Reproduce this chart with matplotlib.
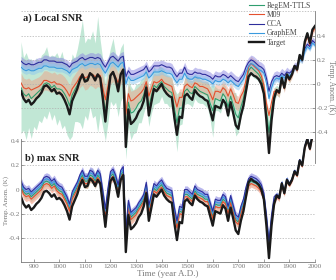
import numpy as np
import matplotlib.pyplot as plt

plt.rcParams['font.family'] = ['Liberation Serif', 'DejaVu Serif']

# decadal values, 850-2000 A.D.
years = list(range(850, 2001, 10))

target = [
    -0.06, -0.12, -0.15, -0.13, -0.17, -0.15, -0.12, -0.10, -0.07, -0.02,
    -0.01, -0.03, -0.06, -0.04, -0.08, -0.07, -0.09, -0.13, -0.18, -0.25,
    -0.14, -0.09, -0.04, 0.03, 0.08, 0.02, 0.03, 0.09, 0.07, 0.03,
    0.08, 0.05, -0.12, -0.31, -0.10, 0.07, 0.10, 0.04, -0.06, 0.08,
    0.12, -0.52, -0.21, -0.33, -0.31, -0.28, -0.23, -0.20, -0.14, -0.03,
    -0.26, -0.15, -0.04, -0.06, -0.03, 0.00, -0.05, -0.08, -0.10, -0.11,
    -0.28, -0.42, -0.27, -0.28, -0.10, -0.08, -0.11, -0.13, -0.05, -0.08,
    -0.10, -0.11, -0.13, -0.14, -0.22, -0.30, -0.18, -0.19, -0.20, -0.13,
    -0.16, -0.26, -0.15, -0.24, -0.34, -0.37, -0.26, -0.18, -0.06, 0.06,
    0.09, 0.07, 0.06, 0.04, 0.00, -0.08, -0.30, -0.57, -0.30, -0.12,
    -0.05, -0.07, 0.05, -0.03, 0.08, 0.04, 0.08, 0.15, 0.12, 0.24,
    0.20, 0.35, 0.42, 0.34, 0.45, 0.48]

# ---- panel a) local SNR ----
regem_a = [
    -0.03, -0.08, -0.10, -0.08, -0.12, -0.10, -0.08, -0.06, -0.04, 0.00,
    0.01, 0.00, -0.03, -0.01, -0.04, -0.04, -0.05, -0.08, -0.12, -0.18,
    -0.09, -0.05, -0.01, 0.04, 0.08, 0.04, 0.04, 0.09, 0.08, 0.04,
    0.08, 0.06, -0.08, -0.23, -0.06, 0.08, 0.10, 0.05, -0.03, 0.08,
    0.12, -0.40, -0.15, -0.24, -0.23, -0.20, -0.16, -0.14, -0.09, 0.00,
    -0.19, -0.10, -0.01, -0.03, 0.00, 0.02, -0.02, -0.04, -0.06, -0.07,
    -0.20, -0.32, -0.20, -0.20, -0.06, -0.04, -0.07, -0.08, -0.02, -0.04,
    -0.06, -0.07, -0.08, -0.09, -0.16, -0.22, -0.12, -0.13, -0.14, -0.08,
    -0.11, -0.19, -0.10, -0.17, -0.25, -0.28, -0.19, -0.12, 0.00, 0.11,
    0.14, 0.12, 0.10, 0.08, 0.04, -0.04, -0.22, -0.40, -0.22, -0.09,
    -0.05, -0.07, 0.05, -0.03, 0.08, 0.04, 0.08, 0.15, 0.12, 0.24,
    0.20, 0.35, 0.42, 0.34, 0.45, 0.48]
regem_a_err = [
    0.38, 0.30, 0.36, 0.28, 0.33, 0.25, 0.30, 0.24, 0.28, 0.26,
    0.30, 0.22, 0.27, 0.24, 0.30, 0.25, 0.32, 0.26, 0.30, 0.28,
    0.34, 0.26, 0.30, 0.36, 0.45, 0.30, 0.34, 0.28, 0.36, 0.30,
    0.48, 0.30, 0.28, 0.24, 0.26, 0.22, 0.28, 0.20, 0.24, 0.22,
    0.22, 0.22, 0.20, 0.22, 0.18, 0.20, 0.16, 0.18, 0.15, 0.17,
    0.16, 0.14, 0.16, 0.13, 0.15, 0.12, 0.14, 0.12, 0.13, 0.12,
    0.16, 0.24, 0.14, 0.13, 0.11, 0.12, 0.10, 0.11, 0.10, 0.11,
    0.10, 0.09, 0.10, 0.11, 0.14, 0.22, 0.10, 0.09, 0.10, 0.09,
    0.09, 0.10, 0.09, 0.10, 0.18, 0.12, 0.09, 0.08, 0.07, 0.07,
    0.06, 0.07, 0.06, 0.06, 0.06, 0.06, 0.07, 0.09, 0.07, 0.06,
    0.04, 0.04, 0.03, 0.03, 0.03, 0.03, 0.02, 0.02, 0.02, 0.02,
    0.02, 0.02, 0.02, 0.02, 0.02, 0.02]

m09_a = [
    0.01, -0.03, -0.04, -0.03, -0.05, -0.04, -0.03, -0.02, 0.00, 0.03,
    0.03, 0.02, 0.01, 0.02, 0.00, 0.00, -0.01, -0.03, -0.06, -0.10,
    -0.04, -0.01, 0.02, 0.06, 0.08, 0.05, 0.06, 0.09, 0.08, 0.06,
    0.08, 0.07, -0.03, -0.13, -0.02, 0.08, 0.10, 0.06, 0.01, 0.08,
    0.11, -0.25, -0.08, -0.14, -0.13, -0.11, -0.09, -0.07, -0.04, 0.02,
    -0.10, -0.04, 0.02, 0.01, 0.02, 0.04, 0.01, 0.00, -0.01, -0.02,
    -0.11, -0.19, -0.11, -0.11, -0.02, 0.00, -0.02, -0.03, 0.01, 0.00,
    -0.02, -0.02, -0.03, -0.04, -0.08, -0.13, -0.06, -0.06, -0.07, -0.03,
    -0.05, -0.10, -0.04, -0.09, -0.15, -0.16, -0.10, -0.06, 0.03, 0.14,
    0.17, 0.15, 0.13, 0.11, 0.07, -0.01, -0.16, -0.26, -0.15, -0.06,
    -0.06, -0.08, 0.04, -0.04, 0.07, 0.03, 0.07, 0.14, 0.11, 0.23,
    0.19, 0.33, 0.40, 0.32, 0.43, 0.46]

cca_a = [
    0.19, 0.17, 0.16, 0.17, 0.16, 0.16, 0.17, 0.18, 0.18, 0.20,
    0.20, 0.19, 0.19, 0.19, 0.18, 0.18, 0.18, 0.17, 0.16, 0.14,
    0.17, 0.18, 0.19, 0.21, 0.22, 0.20, 0.21, 0.22, 0.22, 0.21,
    0.22, 0.21, 0.17, 0.14, 0.18, 0.22, 0.23, 0.21, 0.19, 0.22,
    0.23, 0.06, 0.11, 0.08, 0.08, 0.09, 0.10, 0.11, 0.12, 0.15,
    0.10, 0.12, 0.15, 0.15, 0.15, 0.16, 0.15, 0.14, 0.14, 0.13,
    0.09, 0.06, 0.09, 0.09, 0.14, 0.09, 0.08, 0.08, 0.10, 0.09,
    0.09, 0.08, 0.08, 0.07, 0.06, 0.04, 0.07, 0.06, 0.06, 0.08,
    0.07, 0.05, 0.07, 0.05, 0.03, 0.02, 0.05, 0.08, 0.14, 0.18,
    0.20, 0.19, 0.17, 0.15, 0.14, 0.12, 0.05, -0.06, 0.02, 0.06,
    0.07, 0.06, 0.09, 0.07, 0.10, 0.09, 0.11, 0.15, 0.15, 0.22,
    0.21, 0.29, 0.33, 0.31, 0.36, 0.34]

graphem_a = [
    0.14, 0.12, 0.11, 0.12, 0.11, 0.11, 0.12, 0.13, 0.13, 0.15,
    0.15, 0.14, 0.14, 0.14, 0.13, 0.13, 0.13, 0.12, 0.11, 0.09,
    0.12, 0.13, 0.14, 0.16, 0.17, 0.15, 0.16, 0.17, 0.17, 0.16,
    0.17, 0.16, 0.12, 0.09, 0.13, 0.17, 0.18, 0.16, 0.14, 0.17,
    0.18, 0.00, 0.06, 0.03, 0.03, 0.04, 0.05, 0.06, 0.07, 0.10,
    0.05, 0.07, 0.10, 0.10, 0.10, 0.11, 0.10, 0.09, 0.09, 0.08,
    0.04, 0.01, 0.04, 0.04, 0.09, 0.05, 0.04, 0.04, 0.06, 0.05,
    0.05, 0.04, 0.04, 0.03, 0.02, 0.00, 0.03, 0.02, 0.02, 0.04,
    0.03, 0.01, 0.03, 0.01, -0.01, -0.02, 0.01, 0.04, 0.10, 0.15,
    0.17, 0.16, 0.14, 0.12, 0.11, 0.09, 0.01, -0.12, -0.03, 0.03,
    0.05, 0.04, 0.07, 0.05, 0.08, 0.07, 0.09, 0.13, 0.13, 0.20,
    0.19, 0.27, 0.31, 0.29, 0.34, 0.32]

# ---- panel b) max SNR ----
regem_b = [
    0.03, -0.02, -0.04, -0.03, -0.06, -0.04, -0.02, 0.00, 0.02, 0.06,
    0.07, 0.06, 0.03, 0.05, 0.01, -0.01, -0.02, -0.06, -0.10, -0.16,
    -0.06, -0.02, 0.02, 0.08, 0.12, 0.07, 0.07, 0.12, 0.11, 0.07,
    0.12, 0.09, -0.05, -0.20, -0.03, 0.11, 0.13, 0.08, 0.00, 0.12,
    0.15, -0.39, -0.13, -0.23, -0.21, -0.19, -0.15, -0.12, -0.08, 0.02,
    -0.17, -0.08, 0.01, -0.01, 0.02, 0.04, 0.00, -0.03, -0.04, -0.05,
    -0.19, -0.30, -0.18, -0.19, -0.04, -0.04, -0.06, -0.08, -0.01, -0.04,
    -0.05, -0.06, -0.08, -0.08, -0.15, -0.22, -0.12, -0.13, -0.13, -0.08,
    -0.10, -0.18, -0.09, -0.17, -0.25, -0.27, -0.18, -0.12, -0.02, 0.05,
    0.07, 0.06, 0.05, 0.03, 0.00, -0.07, -0.25, -0.47, -0.25, -0.10,
    -0.05, -0.07, 0.05, -0.03, 0.08, 0.04, 0.08, 0.15, 0.12, 0.24,
    0.20, 0.35, 0.42, 0.34, 0.45, 0.48]

m09_b = [
    0.01, -0.04, -0.06, -0.05, -0.08, -0.06, -0.04, -0.02, 0.00, 0.04,
    0.05, 0.04, 0.01, 0.03, -0.01, -0.03, -0.04, -0.08, -0.12, -0.18,
    -0.08, -0.04, 0.00, 0.06, 0.10, 0.05, 0.05, 0.10, 0.09, 0.05,
    0.10, 0.07, -0.07, -0.22, -0.05, 0.09, 0.11, 0.06, -0.02, 0.10,
    0.13, -0.41, -0.15, -0.25, -0.23, -0.21, -0.17, -0.14, -0.10, 0.00,
    -0.19, -0.10, -0.01, -0.03, 0.00, 0.02, -0.02, -0.05, -0.06, -0.07,
    -0.21, -0.32, -0.20, -0.21, -0.06, -0.06, -0.08, -0.10, -0.03, -0.06,
    -0.07, -0.08, -0.10, -0.10, -0.17, -0.24, -0.14, -0.15, -0.15, -0.10,
    -0.12, -0.20, -0.11, -0.19, -0.27, -0.29, -0.20, -0.14, -0.04, 0.03,
    0.05, 0.04, 0.03, 0.01, -0.02, -0.09, -0.27, -0.49, -0.27, -0.12,
    -0.06, -0.08, 0.04, -0.04, 0.07, 0.03, 0.07, 0.14, 0.11, 0.23,
    0.19, 0.34, 0.41, 0.33, 0.44, 0.47]

cca_b = [
    0.07, 0.02, 0.00, 0.01, -0.02, 0.00, 0.02, 0.04, 0.06, 0.10,
    0.11, 0.10, 0.07, 0.09, 0.05, 0.03, 0.02, -0.02, -0.06, -0.12,
    -0.02, 0.02, 0.06, 0.12, 0.16, 0.11, 0.11, 0.16, 0.15, 0.11,
    0.16, 0.13, -0.01, -0.16, 0.01, 0.15, 0.17, 0.12, 0.04, 0.16,
    0.19, -0.35, -0.09, -0.19, -0.17, -0.15, -0.11, -0.08, -0.04, 0.06,
    -0.13, -0.04, 0.05, 0.03, 0.06, 0.08, 0.04, 0.01, 0.00, -0.01,
    -0.15, -0.26, -0.14, -0.15, 0.00, 0.00, -0.02, -0.04, 0.03, 0.00,
    -0.01, -0.02, -0.04, -0.04, -0.11, -0.18, -0.08, -0.09, -0.09, -0.04,
    -0.06, -0.14, -0.05, -0.13, -0.21, -0.23, -0.14, -0.08, 0.02, 0.09,
    0.11, 0.10, 0.09, 0.07, 0.04, -0.03, -0.21, -0.43, -0.21, -0.06,
    -0.04, -0.06, 0.06, -0.02, 0.09, 0.05, 0.09, 0.16, 0.13, 0.25,
    0.21, 0.36, 0.43, 0.35, 0.46, 0.49]

graphem_b = [
    0.05, 0.00, -0.02, -0.01, -0.04, -0.02, 0.00, 0.02, 0.04, 0.08,
    0.09, 0.08, 0.05, 0.07, 0.03, 0.01, 0.00, -0.04, -0.08, -0.14,
    -0.04, 0.00, 0.04, 0.10, 0.14, 0.09, 0.09, 0.14, 0.13, 0.09,
    0.14, 0.11, -0.03, -0.18, -0.01, 0.13, 0.15, 0.10, 0.02, 0.14,
    0.17, -0.37, -0.11, -0.21, -0.19, -0.17, -0.13, -0.10, -0.06, 0.04,
    -0.15, -0.06, 0.03, 0.01, 0.04, 0.06, 0.02, -0.01, -0.02, -0.03,
    -0.17, -0.28, -0.16, -0.17, -0.02, -0.02, -0.04, -0.06, 0.01, -0.02,
    -0.03, -0.04, -0.06, -0.06, -0.13, -0.20, -0.10, -0.11, -0.11, -0.06,
    -0.08, -0.16, -0.07, -0.15, -0.23, -0.25, -0.16, -0.10, 0.00, 0.07,
    0.09, 0.08, 0.07, 0.05, 0.02, -0.05, -0.23, -0.45, -0.23, -0.08,
    -0.04, -0.06, 0.06, -0.02, 0.09, 0.05, 0.09, 0.16, 0.13, 0.25,
    0.21, 0.36, 0.43, 0.35, 0.46, 0.49]

# band half-widths by century (800s ... 2000)
m09_a_err = [0.08, 0.08, 0.09, 0.10, 0.08, 0.07, 0.07, 0.06, 0.06, 0.06, 0.03, 0.02, 0.02]
cca_a_err = [0.04, 0.04, 0.04, 0.04, 0.04, 0.04, 0.04, 0.04, 0.04, 0.04, 0.04, 0.03, 0.03]
graphem_a_err = [0.03, 0.03, 0.03, 0.03, 0.03, 0.03, 0.03, 0.03, 0.03, 0.03, 0.03, 0.02, 0.02]
regem_b_err = [0.04, 0.04, 0.04, 0.06, 0.04, 0.03, 0.03, 0.03, 0.03, 0.03, 0.02, 0.01, 0.01]
m09_b_err = [0.04, 0.04, 0.04, 0.04, 0.04, 0.03, 0.03, 0.03, 0.03, 0.03, 0.02, 0.01, 0.01]
cca_b_err = [0.03, 0.03, 0.03, 0.03, 0.03, 0.03, 0.03, 0.03, 0.03, 0.03, 0.02, 0.01, 0.01]
graphem_b_err = [0.03, 0.03, 0.03, 0.03, 0.03, 0.03, 0.03, 0.03, 0.03, 0.03, 0.02, 0.01, 0.01]

labels = ['RegEM-TTLS', 'M09', 'CCA', 'GraphEM', 'Target']
line_colors = ['#2f9e6e', '#e4502e', '#2e2e9c', '#3a9ade']
band_colors = ['#8fd4b4', '#f09a80', '#8a86e0', '#8cc8f0']

x = np.array(years)
century = (x - 800) // 100
grid_gray = '#b0b0b0'
text_gray = '#7a7a7a'


def per_century(err):
    return np.array(err)[century]


def style_axis(ax, side):
    for s in ax.spines.values():
        s.set_visible(False)
    ax.set_facecolor('none')
    ax.set_xlim(850, 2000)
    ax.set_yticks([-0.4, -0.2, 0, 0.2, 0.4])
    ax.set_yticklabels(['-0.4', '-0.2', '0', '0.2', '0.4'])
    ax.grid(axis='y', color=grid_gray, linestyle=(0, (2, 2)), linewidth=0.5)
    ax.tick_params(colors=text_gray, labelsize=5.2, length=2, width=0.5,
                   direction='in', pad=2)
    if side == 'right':
        ax.spines['right'].set_visible(True)
        ax.spines['right'].set_color(text_gray)
        ax.spines['right'].set_linewidth(0.6)
        ax.yaxis.tick_right()
        ax.yaxis.set_label_position('right')
        ax.tick_params(axis='y', pad=1.5)
        ax.set_xticks([])
    else:
        ax.spines['left'].set_visible(True)
        ax.spines['bottom'].set_visible(True)
        for k in ('left', 'bottom'):
            ax.spines[k].set_color(text_gray)
            ax.spines[k].set_linewidth(0.6)
        ax.tick_params(axis='y', pad=1)


fig = plt.figure(figsize=(3.36, 2.8), dpi=100)
ax_b = fig.add_axes([0.0625, 0.0654, 0.875, 0.438])
ax_a = fig.add_axes([0.0625, 0.419, 0.875, 0.540])

# panel a
series_a = [regem_a, m09_a, cca_a, graphem_a]
errs_a = [np.array(regem_a_err), per_century(m09_a_err),
          per_century(cca_a_err), per_century(graphem_a_err)]
alphas_a = [0.55, 0.45, 0.5, 0.5]
for s, e, c, a in zip(series_a, errs_a, band_colors, alphas_a):
    s = np.array(s)
    ax_a.fill_between(x, s - e, s + e, color=c, alpha=a, linewidth=0)
handles = []
for s, c, lab in zip(series_a, line_colors, labels):
    h, = ax_a.plot(x, s, color=c, lw=0.8, label=lab)
    handles.append(h)
h, = ax_a.plot(x, target, color='#1a1a1a', lw=1.7, label='Target')
handles.append(h)

style_axis(ax_a, 'right')
ax_a.set_ylim(-0.65, 0.6)
ax_a.axhline(0.6, color=grid_gray, linestyle=(0, (2, 2)), linewidth=0.5)
ax_a.set_ylabel('Temp. Anom. (K)', rotation=270, color=text_gray,
                fontsize=5.5, labelpad=5)
ax_a.text(0.008, 0.985, 'a) Local SNR', transform=ax_a.transAxes,
          fontsize=7.5, fontweight='bold', va='top', ha='left', color='#222222')

# panel b
series_b = [regem_b, m09_b, graphem_b, cca_b]
errs_b = [regem_b_err, m09_b_err, graphem_b_err, cca_b_err]
cols_b = [line_colors[0], line_colors[1], line_colors[3], line_colors[2]]
bands_b = [band_colors[0], band_colors[1], band_colors[3], band_colors[2]]
for s, e, c in zip(series_b, errs_b, bands_b):
    s = np.array(s)
    e = per_century(e)
    ax_b.fill_between(x, s - e, s + e, color=c, alpha=0.6, linewidth=0)
for s, c in zip(series_b, cols_b):
    ax_b.plot(x, s, color=c, lw=0.8)
ax_b.plot(x, target, color='#1a1a1a', lw=1.7)

style_axis(ax_b, 'left')
ax_b.set_ylim(-0.6, 0.42)
ax_b.set_xticks(range(900, 2001, 100))
ax_b.set_ylabel('Temp. Anom. (K)', color=text_gray, fontsize=5)
ax_b.yaxis.set_label_coords(-0.041, 0.5)
ax_b.set_xlabel('Time (year A.D.)', color=text_gray, fontsize=6.5, labelpad=0.5)
ax_b.text(0.012, 0.845, 'b) max SNR', transform=ax_b.transAxes,
          fontsize=7.5, fontweight='bold', va='center', ha='left', color='#222222')

fig.legend(handles=handles, labels=labels, loc='upper left',
           bbox_to_anchor=(249 / 336, 1 - 2 / 280), frameon=False,
           fontsize=5.5, handlelength=2.0, handletextpad=0.3,
           labelspacing=0.15, borderpad=0, borderaxespad=0,
           labelcolor='#444444')

fig.savefig('out.png', dpi=100)
